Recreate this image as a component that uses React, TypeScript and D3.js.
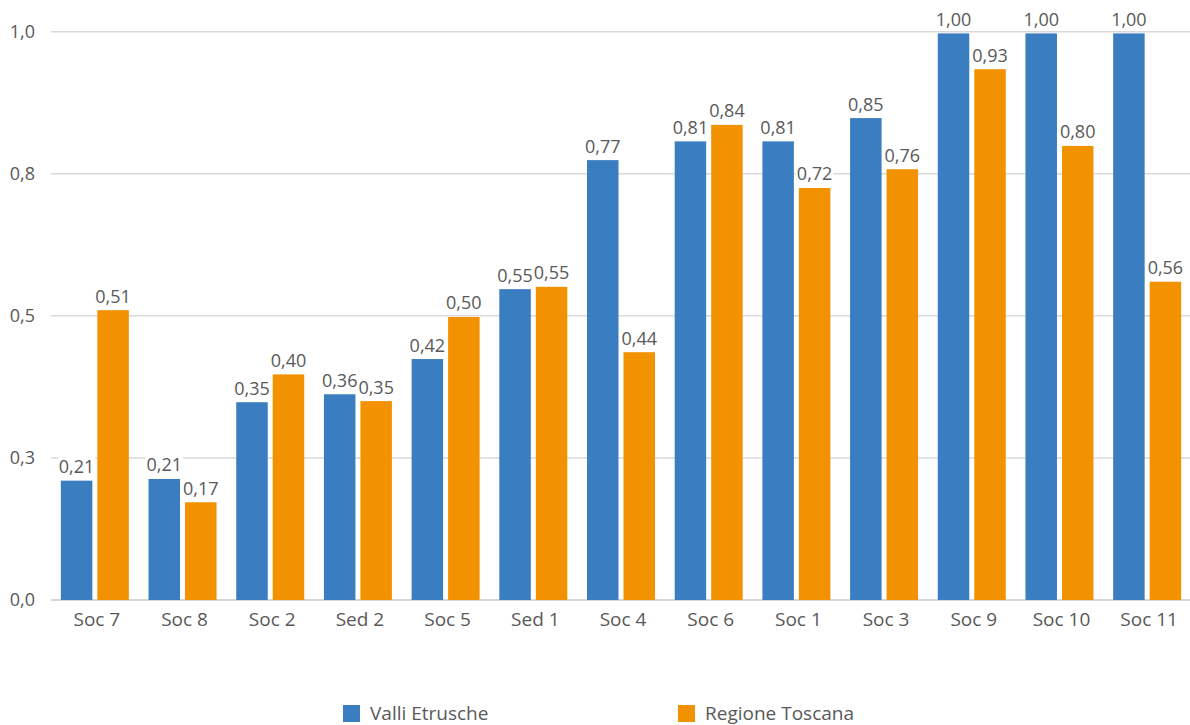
import { useEffect, useRef } from "react";
import * as d3 from "d3";

// categorie (ordinate come nel grafico)
const categories = ["Soc 7", "Soc 8", "Soc 2", "Sed 2", "Soc 5", "Sed 1", "Soc 4", "Soc 6", "Soc 1", "Soc 3", "Soc 9", "Soc 10", "Soc 11"];

const valliEtrusche = [0.21, 0.213, 0.348, 0.362, 0.424, 0.547, 0.774, 0.807, 0.807, 0.848, 0.997, 0.997, 0.997];
const regioneToscana = [0.51, 0.172, 0.397, 0.35, 0.498, 0.551, 0.436, 0.836, 0.725, 0.758, 0.934, 0.799, 0.56];

const seriesNames = ["Valli Etrusche", "Regione Toscana"];
const seriesColors = ["#3a7dc0", "#f39200"];

const yTicks = [0, 0.25, 0.5, 0.75, 1.0];

const W = 1190;
const H = 725;
const FONT = "'Open Sans', 'Noto Sans', sans-serif";
const TXT = "#595959";

const fmt1 = (v: number) => v.toFixed(1).replace(".", ",");
const fmt2 = (v: number) => v.toFixed(2).replace(".", ",");

export default function App() {
  const ref = useRef<SVGSVGElement | null>(null);

  useEffect(() => {
    if (!ref.current) return;
    const svg = d3.select(ref.current);
    svg.selectAll("*").remove();

    const x0 = d3.scaleBand<string>().domain(categories).range([51, 1191]).padding(0);
    const x1 = d3
      .scaleBand<number>()
      .domain([0, 1])
      .range([9.85, x0.bandwidth() - 9.85])
      .paddingInner(0.137)
      .paddingOuter(0);
    const y = d3.scaleLinear().domain([0, 1]).range([600, 31.7]);

    // griglia
    svg
      .append("g")
      .selectAll("line")
      .data(yTicks)
      .enter()
      .append("line")
      .attr("x1", 51)
      .attr("x2", 1190)
      .attr("y1", (d) => y(d))
      .attr("y2", (d) => y(d))
      .attr("stroke", (d) => (d === 0 ? "#c8c8c8" : "#d9d9d9"))
      .attr("stroke-width", 1.5);

    // etichette asse y
    svg
      .append("g")
      .selectAll("text")
      .data(yTicks)
      .enter()
      .append("text")
      .attr("x", 35)
      .attr("y", (d) => y(d))
      .attr("dy", "0.35em")
      .attr("text-anchor", "end")
      .style("font-family", FONT)
      .style("font-size", "18px")
      .attr("fill", TXT)
      .text((d) => fmt1(d));

    const series = [valliEtrusche, regioneToscana];

    const rows = categories.flatMap((c, i) =>
      series.map((s, k) => ({ cat: c, k, v: s[i] }))
    );

    // barre
    svg
      .append("g")
      .selectAll("rect")
      .data(rows)
      .enter()
      .append("rect")
      .attr("x", (d) => x0(d.cat)! + x1(d.k)!)
      .attr("y", (d) => y(d.v))
      .attr("width", x1.bandwidth())
      .attr("height", (d) => y(0) - y(d.v))
      .attr("fill", (d) => seriesColors[d.k]);

    // etichette valori con sfondo bianco
    const lab = svg.append("g");
    rows.forEach((d) => {
      const cx = x0(d.cat)! + x1(d.k)! + x1.bandwidth() / 2;
      const g = lab.append("g");
      const bg = g.append("rect").attr("fill", "white");
      const t = g
        .append("text")
        .attr("x", cx)
        .attr("y", y(d.v) - 7.5)
        .attr("text-anchor", "middle")
        .style("font-family", FONT)
        .style("font-size", "18px")
        .attr("fill", TXT)
        .text(fmt2(d.v));
      const bb = (t.node() as SVGTextElement).getBBox();
      bg.attr("x", bb.x - 1)
        .attr("y", bb.y + 2)
        .attr("width", bb.width + 2)
        .attr("height", bb.height - 2);
    });

    // etichette asse x
    svg
      .append("g")
      .selectAll("text")
      .data(categories)
      .enter()
      .append("text")
      .attr("x", (d) => x0(d)! + x0.bandwidth() / 2 + 2)
      .attr("y", 626)
      .attr("text-anchor", "middle")
      .style("font-family", FONT)
      .style("font-size", "19px")
      .attr("fill", TXT)
      .text((d) => d);

    // legenda
    const legX = [343, 678];
    const leg = svg.append("g");
    seriesNames.forEach((n, k) => {
      leg
        .append("rect")
        .attr("x", legX[k])
        .attr("y", 705)
        .attr("width", 17)
        .attr("height", 17)
        .attr("fill", seriesColors[k]);
      leg
        .append("text")
        .attr("x", legX[k] + 27)
        .attr("y", 720)
        .style("font-family", FONT)
        .style("font-size", "19px")
        .attr("fill", TXT)
        .text(n);
    });
  }, []);

  return (
    <svg
      ref={ref}
      width={W}
      height={H}
      style={{ position: "absolute", left: 0, top: 0, background: "white" }}
    />
  );
}
